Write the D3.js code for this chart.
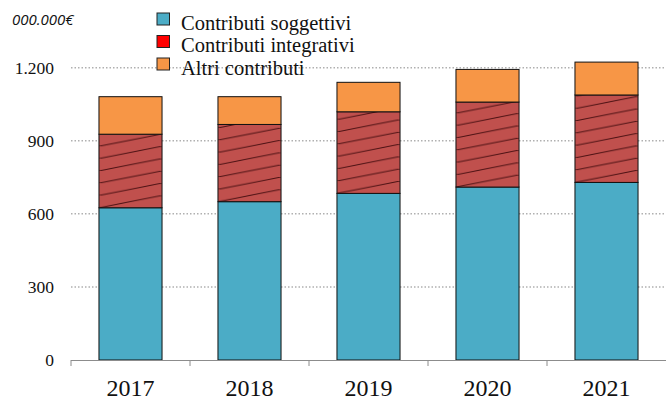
<!DOCTYPE html>
<html><head><meta charset="utf-8">
<script src="https://cdn.jsdelivr.net/npm/d3@7"></script>
<style>body{margin:0;background:#fff}svg{display:block}</style>
</head><body>
<svg id="c" width="666" height="400"></svg>
<script>
const years = ["2017","2018","2019","2020","2021"];
const soggettivi = [625, 650, 684, 710, 729];
const integrativi = [302, 317, 335, 349, 359];
const altri = [154, 114, 121, 134, 135];
const yTicks = [0, 300, 600, 900, 1200];
const seriesNames = ["Contributi soggettivi", "Contributi integrativi", "Altri contributi"];
const unitLabel = "000.000€";

const W = 666, H = 400;
const svg = d3.select("#c");
const serif = "Liberation Serif";

const x = d3.scaleBand().domain(years).range([71, 666]).paddingInner(0.47).paddingOuter(0.235);
const y = d3.scaleLinear().domain([0, 1200]).range([360, 67.7]);
const it = d3.formatLocale({decimal: ",", thousands: ".", grouping: [3], currency: ["", "€"]});
const fmt = it.format(",d");

// gridlines
svg.append("g").selectAll("line").data(yTicks.filter(d => d > 0)).join("line")
  .attr("x1", 71).attr("x2", W).attr("y1", d => y(d)).attr("y2", d => y(d))
  .attr("stroke", "#b0b0b0").attr("stroke-width", 1.5).attr("stroke-dasharray", "1.5 2");

// y labels
svg.append("g").selectAll("text").data(yTicks).join("text")
  .attr("x", 54).attr("y", d => y(d)).attr("dy", "0.35em").attr("text-anchor", "end")
  .style("font-family", serif).attr("font-size", 17.5).attr("fill", "#111").text(d => fmt(d));

// stack
const data = years.map((yr, i) => ({yr, s: soggettivi[i], n: integrativi[i], a: altri[i]}));
const stack = d3.stack().keys(["s", "n", "a"])(data);
const colors = {s: "#4BACC6", n: "#C0504D", a: "#F79646"};

const defs = svg.append("defs");
const hatchH = 12.3;
stack[1].forEach((d, i) => {
  const p = defs.append("pattern").attr("id", "h" + i).attr("patternUnits", "userSpaceOnUse")
    .attr("x", x(d.data.yr)).attr("y", y(d[0])).attr("width", x.bandwidth()).attr("height", hatchH);
  p.append("rect").attr("width", x.bandwidth()).attr("height", hatchH).attr("fill", colors.n);
  p.append("line").attr("x1", 0).attr("y1", hatchH).attr("x2", x.bandwidth()).attr("y2", 0)
    .attr("stroke", "#4a1012").attr("stroke-width", 1);
});

const bars = svg.append("g");
stack.forEach(layer => {
  bars.append("g").selectAll("rect").data(layer).join("rect")
    .attr("x", d => x(d.data.yr)).attr("width", x.bandwidth())
    .attr("y", d => y(d[1])).attr("height", d => y(d[0]) - y(d[1]))
    .attr("fill", (d, i) => layer.key === "n" ? `url(#h${i})` : colors[layer.key])
    .attr("stroke", "#111").attr("stroke-width", 1);
});

// x axis
const step = x.step(), half = step * x.paddingInner() / 2;
svg.append("line").attr("x1", 71).attr("x2", W).attr("y1", y(0) + 0.5).attr("y2", y(0) + 0.5)
  .attr("stroke", "#8c8c8c").attr("stroke-width", 1);
const bounds = years.map(yr => x(yr) - half);
svg.append("g").selectAll("line").data(bounds).join("line")
  .attr("x1", d => d).attr("x2", d => d).attr("y1", y(0)).attr("y2", y(0) + 6)
  .attr("stroke", "#8c8c8c").attr("stroke-width", 1);
svg.append("g").selectAll("text").data(years).join("text")
  .attr("x", d => x(d) + x.bandwidth() / 2).attr("y", 396).attr("text-anchor", "middle")
  .style("font-family", serif).attr("font-size", 24).attr("fill", "#111").text(d => d);

// unit label
svg.append("text").attr("x", 12).attr("y", 25).style("font-family", "Open Sans")
  .attr("font-style", "italic").attr("font-size", 15).attr("fill", "#111").text(unitLabel);

// legend
const legColors = ["#4BACC6", "#FF0000", "#F79646"];
const lg = svg.append("g").selectAll("g").data(seriesNames).join("g")
  .attr("transform", (d, i) => `translate(157,${13 + i * 22.5})`);
lg.append("rect").attr("width", 12.5).attr("height", 12).attr("fill", (d, i) => legColors[i])
  .attr("stroke", "#222").attr("stroke-width", 1);
lg.append("text").attr("x", 24).attr("y", 16.5).style("font-family", serif).attr("font-size", 20.5)
  .attr("fill", "#111").text(d => d);
</script>
</body></html>
